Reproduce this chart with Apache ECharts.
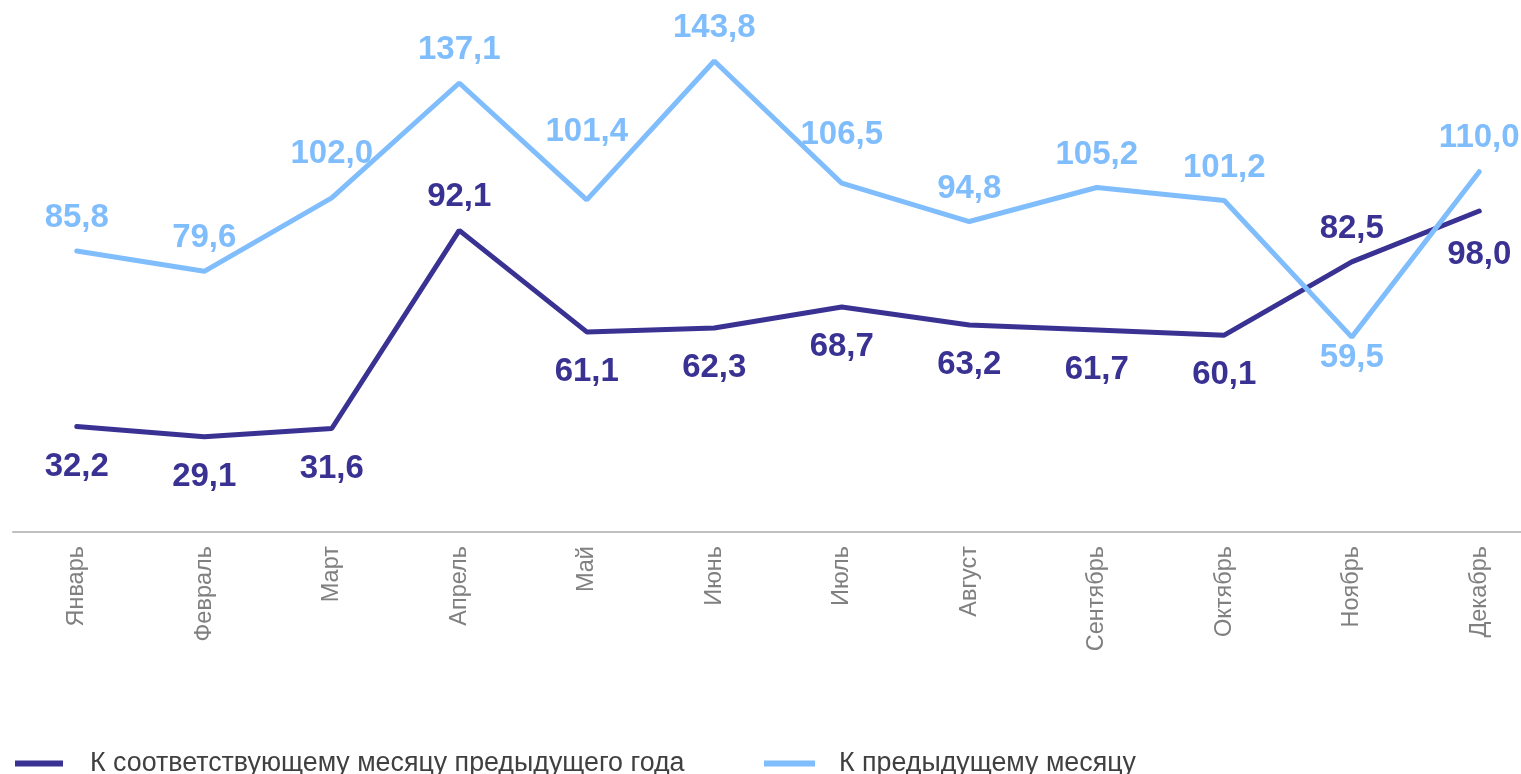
<!DOCTYPE html>
<html>
<head>
<meta charset="utf-8">
<script src="https://cdn.jsdelivr.net/npm/echarts@6/dist/echarts.min.js"></script>
<style>
  html, body { margin: 0; padding: 0; background: #fff; overflow: hidden; }
  /* the last category band runs past the right edge in the original, so the canvas is a bit wider than the window */
  #chart { width: 1543px; height: 774px; }
</style>
</head>
<body>
<div id="chart"></div>
<script>
var months = ['Январь', 'Февраль', 'Март', 'Апрель', 'Май', 'Июнь', 'Июль', 'Август', 'Сентябрь', 'Октябрь', 'Ноябрь', 'Декабрь'];
var yearOnYear = [32.2, 29.1, 31.6, 92.1, 61.1, 62.3, 68.7, 63.2, 61.7, 60.1, 82.5, 98.0];
var monthOnMonth = [85.8, 79.6, 102.0, 137.1, 101.4, 143.8, 106.5, 94.8, 105.2, 101.2, 59.5, 110.0];

var darkColor = '#3A3293';
var lightColor = '#80BDFD';
var font = 'Liberation Sans, Arial, sans-serif';

var fmt = function(v) { return v.toFixed(1).replace('.', ','); };

// label placement tweaks, by month index
var yoyLabelStyle = {
    3: { position: 'top', distance: 16 },
    10: { position: 'top', distance: 16 },
    11: { position: 'bottom', distance: 27 }
};
var momLabelStyle = {
    2: { distance: 27 },
    4: { distance: 51 },
    6: { distance: 31 },
    10: { position: 'bottom', distance: 4 },
    11: { distance: 17 }
};

var labelBase = {
    show: true,
    fontFamily: font,
    fontWeight: 'bold',
    fontSize: 33
};

var yoyData = yearOnYear.map(function(v, i) {
    return {
        value: v,
        label: Object.assign({ position: 'bottom', distance: 23 }, yoyLabelStyle[i] || {})
    };
});
var momData = monthOnMonth.map(function(v, i) {
    return {
        value: v,
        label: Object.assign({ position: 'top', distance: 16 }, momLabelStyle[i] || {})
    };
});

var chart = echarts.init(document.getElementById('chart'));
var option = {
    animation: false,
    grid: { left: 13, right: 0, top: 8, bottom: 242 },
    legend: [{
        data: ['К соответствующему месяцу предыдущего года'],
        left: 10, top: 745,
        icon: 'rect', itemWidth: 48, itemHeight: 6,
        textStyle: { fontSize: 26.8, color: '#404040', fontFamily: font, padding: [0, 0, 0, 22] }
    }, {
        data: ['К предыдущему месяцу'],
        left: 759, top: 745,
        icon: 'rect', itemWidth: 51, itemHeight: 6,
        textStyle: { fontSize: 26.8, color: '#404040', fontFamily: font, padding: [0, 0, 0, 19] }
    }],
    xAxis: {
        type: 'category',
        data: months,
        axisLine: { lineStyle: { color: '#BFBFBF', width: 2 } },
        axisTick: { show: false },
        axisLabel: {
            rotate: 90,
            margin: 14,
            fontSize: 23.5,
            color: '#808080',
            fontFamily: font,
            interval: 0
        }
    },
    yAxis: {
        type: 'value',
        min: 0,
        max: 160,
        show: false,
        splitLine: { show: false }
    },
    series: [{
        name: 'К соответствующему месяцу предыдущего года',
        type: 'line',
        data: yoyData,
        symbol: 'circle',
        symbolSize: 1,
        showSymbol: true,
        itemStyle: { color: darkColor },
        lineStyle: { color: darkColor, width: 5, cap: 'round' },
        label: Object.assign({}, labelBase, {
            color: darkColor,
            formatter: function(p) { return fmt(p.value); }
        })
    }, {
        name: 'К предыдущему месяцу',
        type: 'line',
        data: momData,
        symbol: 'circle',
        symbolSize: 1,
        showSymbol: true,
        itemStyle: { color: lightColor },
        lineStyle: { color: lightColor, width: 5, cap: 'round' },
        label: Object.assign({}, labelBase, {
            color: lightColor,
            formatter: function(p) { return fmt(p.value); }
        })
    }]
};
chart.setOption(option);
</script>
</body>
</html>
